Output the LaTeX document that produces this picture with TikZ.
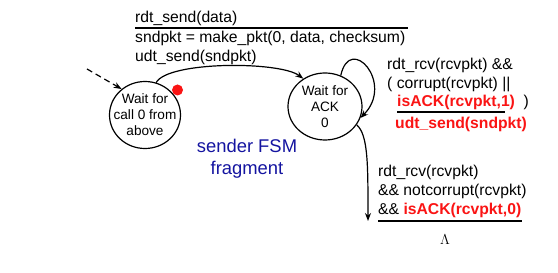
\documentclass[tikz,border=0pt]{standalone}
\usepackage{fontspec}
\setmainfont{Liberation Sans}
\usepackage{xcolor}
\usetikzlibrary{shapes.geometric,arrows.meta,positioning}

\definecolor{fsmred}{RGB}{250,20,20}
\definecolor{fsmblue}{RGB}{20,20,160}

\begin{document}
\begin{tikzpicture}[x=1pt, y=1pt,
  state/.style = {ellipse, draw, line width=1.2pt, minimum height=67pt,
                  inner xsep=-8pt, inner ysep=0pt, align=center,
                  font=\fontsize{13.6}{16}\selectfont},
  lbl/.style   = {align=left, anchor=base west, inner sep=0pt,
                  font=\fontsize{15.7}{18.5}\selectfont},
  arr/.style   = {-{Stealth[length=8pt,width=6pt]}, line width=1.2pt},
  darr/.style  = {arr, dash pattern=on 6pt off 4pt},
  bar/.style   = {line width=2pt}
]
\useasboundingbox (0,0) rectangle (558,273);

% -- States --
\node[state, minimum width=71pt] (wait0) at (145,158)
     {Wait for\\call 0 from\\above};
\node[state, minimum width=74pt] (wait1) at (325,166.5)
     {Wait for\\ACK\\0};
\fill[fsmred] (177.5,183) circle (5.5pt);

% -- Initial arrow --
\coordinate (init) at (87,204);
\draw[darr] (init) -- (wait0.132);

% -- Send transition --
\node[lbl] (evt0) at (135,250) {rdt\_send(data)};
\draw[bar] (135,244.5) -- (408,244.5);
\node[lbl, font=\fontsize{15.7}{19.5}\selectfont] (act0) at (135,211)
     {sndpkt = make\_pkt(0, data, checksum)\\udt\_send(sndpkt)};
\draw[arr] (wait0.71) .. controls (168,212) and (280,212) .. (wait1.128);

% -- Corrupt / NAK self loop --
\node[lbl] (evt1) at (387,166)
     {rdt\_rcv(rcvpkt) \&\&\\( corrupt(rcvpkt) ||\\
      \hspace*{10pt}\textcolor{fsmred}{\bfseries isACK(rcvpkt,1)} \ )};
\draw[bar] (397,161) -- (505,161);
\node[lbl, text=fsmred, font=\fontsize{15.7}{18.5}\selectfont\bfseries]
     (act1) at (395,144) {udt\_send(sndpkt)};
\draw[arr] (wait1.63) .. controls (350,240) and (395,190) .. (wait1.-18);

% -- ACK 0 transition --
\node[lbl, font=\fontsize{15.7}{19}\selectfont] (evt2) at (378,58)
     {rdt\_rcv(rcvpkt)\\\&\& notcorrupt(rcvpkt)\\
      \&\& \textcolor{fsmred}{\bfseries isACK(rcvpkt,0)}};
\draw[bar] (378,51.5) -- (522,51.5);
\node[anchor=base, inner sep=0pt, font=\fontsize{14}{16}\selectfont]
     (act2) at (445,28) {$\Lambda$};
\coordinate (tip2) at (368,52);
\draw[arr] (wait1.-30) .. controls (368,138) and (368,110) .. (tip2);

% -- Caption --
\node[align=center, anchor=base, inner sep=0pt, text=fsmblue,
      font=\fontsize{18.4}{22}\selectfont] (cap) at (247,98)
     {sender FSM\\fragment};

\end{tikzpicture}
\end{document}
